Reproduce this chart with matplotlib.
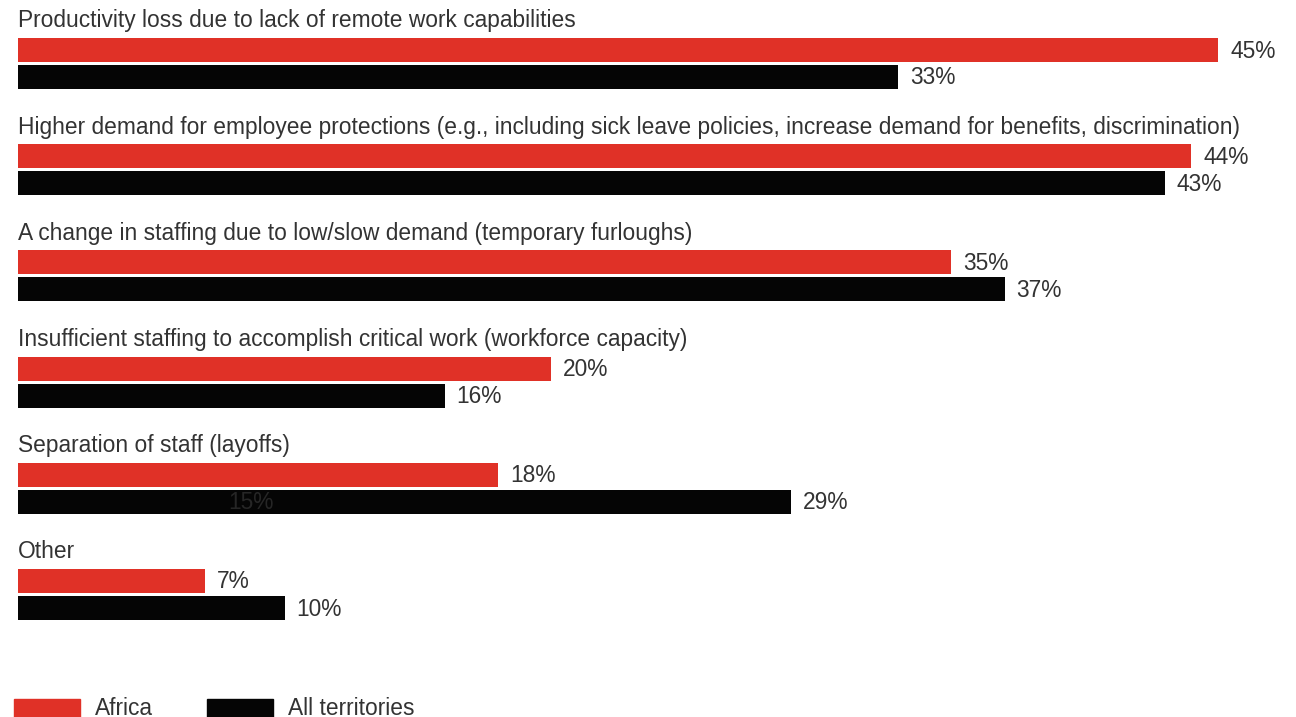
import matplotlib.pyplot as plt
from matplotlib.patches import Rectangle

categories = [
    "Productivity loss due to lack of remote work capabilities",
    "Higher demand for employee protections (e.g., including sick leave policies, "
    "increase demand for benefits, discrimination)",
    "A change in staffing due to low/slow demand (temporary furloughs)",
    "Insufficient staffing to accomplish critical work (workforce capacity)",
    "Separation of staff (layoffs)",
    "Other",
]
africa = [45, 44, 35, 20, 18, 7]
all_territories = [33, 43, 37, 16, 29, 10]
series_names = ["Africa", "All territories"]

RED = "#e03127"
BLACK = "#050505"
TEXT = "#333333"
FONT = ["Liberation Sans", "DejaVu Sans"]
FS = 16.4

plt.rcParams["font.family"] = FONT

W, H = 1296, 717
fig = plt.figure(figsize=(W / 100, H / 100), dpi=100)
left_px = 18
px_per_pct = 26.667
ax = fig.add_axes([left_px / W, 0, 1 - left_px / W, 1])
ax.set_xlim(0, (W - left_px) / px_per_pct)
ax.set_ylim(H, 0)
ax.axis("off")

pitch = 106.2
bar_h = 24
for i, (cat, a, t) in enumerate(zip(categories, africa, all_territories)):
    y0 = 50 + pitch * i
    ax.text(0, y0 - 29, cat, fontsize=FS, color=TEXT, va="center", ha="left")
    ax.barh(y0, a, height=bar_h, color=RED, left=0)
    ax.barh(y0 + 27, t, height=bar_h, color=BLACK, left=0)
    ax.text(a + 0.45, y0 + 1, f"{a}%", fontsize=FS, color=TEXT, va="center")
    ax.text(t + 0.45, y0 + 28, f"{t}%", fontsize=FS, color=TEXT, va="center")

# leftover label sitting inside the layoffs bar
ax.text(7.9, pitch * 4 + 78, "15%", fontsize=FS, color="#262626", va="center")

# legend along the bottom edge
for x, name, color in [(14, series_names[0], RED), (207, series_names[1], BLACK)]:
    fig.patches.append(
        Rectangle((x / W, 0), 66 / W, 18 / H, transform=fig.transFigure,
                  color=color)
    )
    fig.text((x + 81) / W, 2 / H, name, fontsize=FS, color=TEXT,
             va="baseline", ha="left")

fig.savefig("out.png", dpi=100)
